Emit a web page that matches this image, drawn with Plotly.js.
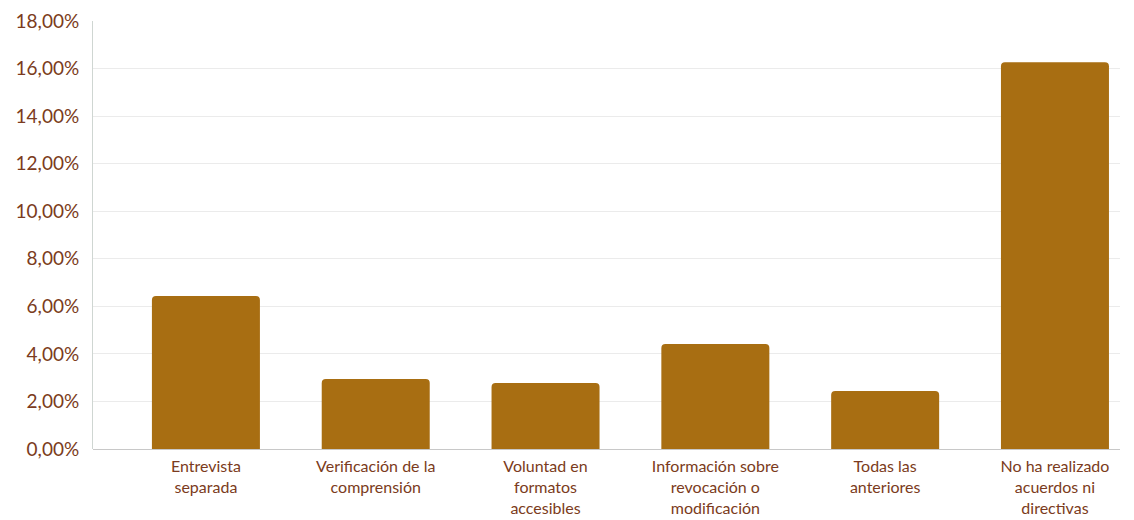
<!DOCTYPE html>
<html>
<head>
<meta charset="utf-8">
<script src="https://cdn.plot.ly/plotly-3.0.1.min.js"></script>
<style>html,body{margin:0;padding:0;background:#fff;}#chart{width:1134px;height:520px;}</style>
</head>
<body>
<div id="chart"></div>
<script>
const categories = [
  "Entrevista<br>separada",
  "Verificación de la<br>comprensión",
  "Voluntad en<br>formatos<br>accesibles",
  "Información sobre<br>revocación o<br>modificación",
  "Todas las<br>anteriores",
  "No ha realizado<br>acuerdos ni<br>directivas"
];
const values = [0.0643, 0.0294, 0.0278, 0.0442, 0.0244, 0.1627];
const yTicks = [0, 0.02, 0.04, 0.06, 0.08, 0.10, 0.12, 0.14, 0.16, 0.18];

const textColor = "#7b3b20";
const trace = {
  type: "bar",
  x: categories,
  y: values,
  marker: { color: "#a86e12", cornerradius: 4 },
  hoverinfo: "skip"
};
const layout = {
  width: 1134, height: 520,
  margin: { l: 93, r: 14, t: 21, b: 71 },
  paper_bgcolor: "#fff", plot_bgcolor: "#fff",
  separators: ",.",
  font: { family: "Lato, 'Noto Sans', sans-serif", color: textColor },
  bargap: 0.364,
  showlegend: false,
  xaxis: {
    type: "category",
    range: [-0.665, 5.383],
    showgrid: false,
    showline: false,
    ticks: "",
    ticklabelstandoff: 6,
    tickfont: { size: 16, color: textColor },
    automargin: false
  },
  yaxis: {
    range: [0, 0.18],
    tickvals: yTicks,
    tickformat: ".2%",
    showgrid: true,
    gridcolor: "#ebebeb",
    gridwidth: 1,
    zeroline: true,
    zerolinecolor: "#c8c8c8",
    zerolinewidth: 1,
    showline: true,
    linecolor: "#cfd6d2",
    linewidth: 1,
    ticks: "",
    ticklabelstandoff: 9,
    tickfont: { size: 19, color: textColor },
    automargin: false
  }
};
Plotly.newPlot("chart", [trace], layout, { displayModeBar: false, staticPlot: true });
</script>
</body>
</html>
